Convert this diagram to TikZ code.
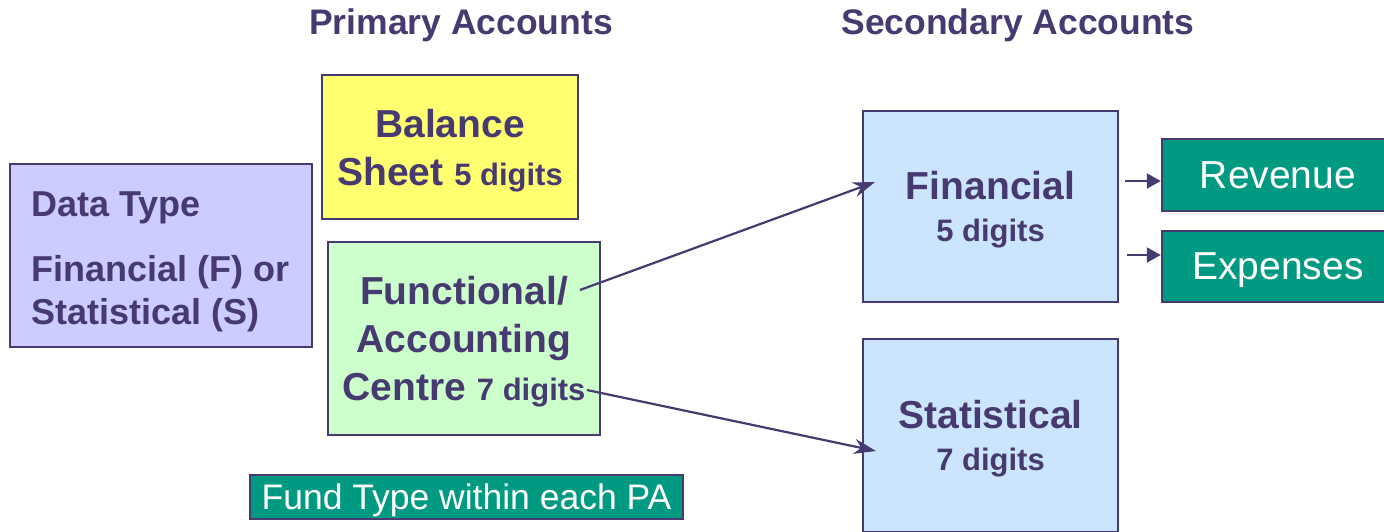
\documentclass[tikz,border=0pt]{standalone}
\usepackage{fontspec}
\setmainfont{Liberation Sans}
\usetikzlibrary{arrows.meta}
\definecolor{ink}{RGB}{70,58,112}
\definecolor{lav}{RGB}{204,204,255}
\definecolor{yel}{RGB}{255,255,112}
\definecolor{mint}{RGB}{204,255,204}
\definecolor{sky}{RGB}{204,229,255}
\definecolor{tealbox}{RGB}{0,153,130}
\newcommand{\bigsz}{\fontsize{39pt}{48pt}\selectfont}
\newcommand{\smlsz}{\fontsize{31pt}{48pt}\selectfont}
\begin{document}
\begin{tikzpicture}[x=1pt,y=-1pt,
  box/.style={draw=ink, line width=2.5pt, inner sep=0pt, text=ink, align=center, text depth=0pt},
  tbox/.style={draw=ink, line width=2.5pt, fill=tealbox, inner sep=0pt, text=white, align=center, text depth=0pt},
  title/.style={text=ink, anchor=base, font=\bfseries\fontsize{35.5pt}{42pt}\selectfont},
  txt/.style={text=ink, anchor=base west, inner sep=0pt, font=\bfseries\fontsize{36pt}{42pt}\selectfont},
  conn/.style={draw=ink, line width=2.2pt, -{Stealth[length=22pt,width=15pt,inset=7pt]}},
  sconn/.style={draw=ink, line width=2.2pt, -{Triangle[length=14pt,width=15pt]}}]
\useasboundingbox (0,0) rectangle (1384,531);
% titles
\node[title] (t1) at (461,34) {Primary Accounts};
\node[title] (t2) at (1018,34) {Secondary Accounts};
% data type
\node[box, fill=lav, minimum width=302pt, minimum height=183pt] (dt) at (161,255.5) {};
\node[txt] (dt1) at (31,216) {Data Type};
\node[txt] (dt2) at (31,281) {Financial (F) or};
\node[txt] (dt3) at (31,324) {Statistical (S)};
% balance sheet
\node[box, fill=yel, minimum width=256pt, minimum height=144pt, font=\bfseries\bigsz] (bs) at (450,147)
  {Balance\\Sheet {\smlsz 5 digits}};
% functional
\node[box, fill=mint, minimum width=272pt, minimum height=193pt, font=\bfseries\bigsz] (fa) at (464,338.5)
  {Functional/\\Accounting\\Centre {\smlsz 7 digits}};
% financial
\node[box, fill=sky, minimum width=255pt, minimum height=191pt, font=\bfseries\bigsz] (fin) at (990.5,206.5)
  {Financial\\[-6pt]{\smlsz 5 digits}};
% statistical
\node[box, fill=sky, minimum width=255pt, minimum height=193pt, font=\bfseries\bigsz] (st) at (990.5,435.5)
  {Statistical\\[-6pt]{\smlsz 7 digits}};
% revenue / expenses
\node[tbox, minimum width=232pt, minimum height=72pt, font=\fontsize{39pt}{46pt}\selectfont] (rev) at (1278,175) {Revenue};
\node[tbox, minimum width=232pt, minimum height=71pt, font=\fontsize{39pt}{46pt}\selectfont] (exp) at (1278,266.5) {Expenses};
% fund type
\node[tbox, minimum width=433pt, minimum height=44pt, line width=2pt, font=\fontsize{35.5pt}{42pt}\selectfont] (fund) at (466.5,497) {Fund Type within each PA};
% connector points
\coordinate (fa1) at (580,290);
\coordinate (fa2) at (587,390);
\coordinate (fin1) at (875,182);
\coordinate (st1) at (876,451);
\coordinate (r0) at (1125,181);
\coordinate (e0) at (1127,255);
\draw[conn] (fa1) -- (fin1);
\draw[conn] (fa2) -- (st1);
\draw[sconn] (r0) -- (r0 -| rev.west);
\draw[sconn] (e0) -- (e0 -| exp.west);
\end{tikzpicture}
\end{document}
